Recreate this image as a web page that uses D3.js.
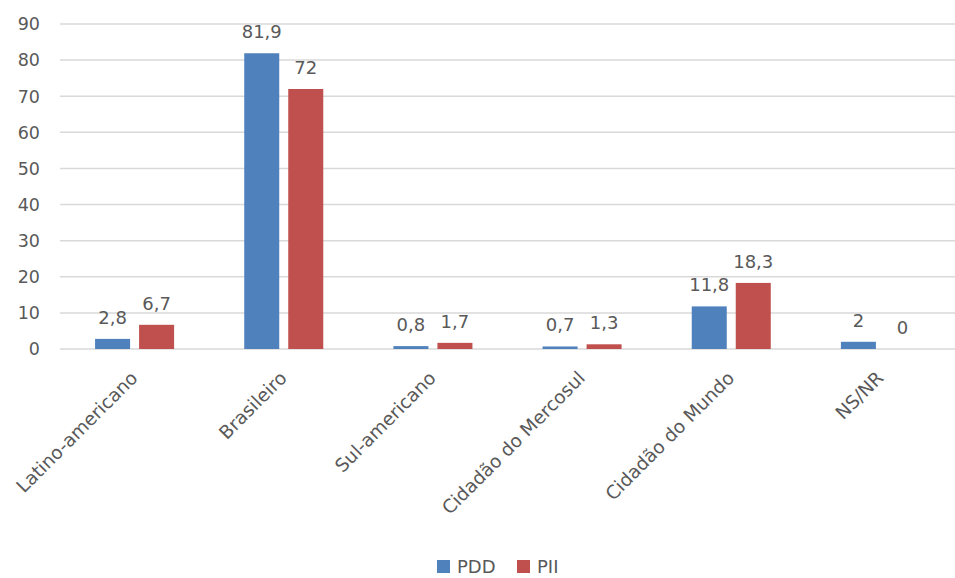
<!DOCTYPE html>
<html><head><meta charset="utf-8">
<script src="https://cdn.jsdelivr.net/npm/d3@7"></script>
<style>body{margin:0;background:#fff}svg{display:block}text{font-family:"DejaVu Sans",sans-serif;fill:#595959}</style>
</head><body>
<script>
const categories = ["Latino-americano","Brasileiro","Sul-americano","Cidadão do Mercosul","Cidadão do Mundo","NS/NR"];
const series = ["PDD","PII"];
const pdd = [2.8,81.9,0.8,0.7,11.8,2];
const pii = [6.7,72,1.7,1.3,18.3,0];
const labelsPdd = ["2,8","81,9","0,8","0,7","11,8","2"];
const labelsPii = ["6,7","72","1,7","1,3","18,3","0"];
const yTicks = [0,10,20,30,40,50,60,70,80,90];
const colors = ["#4f81bd","#c0504d"];

const W=955,H=578;
const svg=d3.select("body").append("svg").attr("width",W).attr("height",H);
const x=d3.scaleBand().domain(categories).range([60,955]).paddingInner(0).paddingOuter(0);
const y=d3.scaleLinear().domain([0,90]).range([349,24]);
const x1=d3.scaleBand().domain(series).range([0,x.bandwidth()]).paddingInner(0.2045).paddingOuter(0.797);

svg.append("g").selectAll("line").data(yTicks).join("line")
 .attr("x1",60).attr("x2",955).attr("y1",d=>y(d)).attr("y2",d=>y(d))
 .attr("stroke","#d9d9d9").attr("stroke-width",1.5);
svg.append("g").selectAll("text").data(yTicks).join("text")
 .attr("x",40).attr("y",d=>y(d)).attr("dy","0.36em").attr("text-anchor","end")
 .attr("font-size",17.5).text(d=>d);

const data=[pdd,pii], labs=[labelsPdd,labelsPii];
series.forEach((s,si)=>{
  const g=svg.append("g");
  g.selectAll("rect").data(categories).join("rect")
   .attr("x",(c)=>x(c)+x1(s)).attr("width",x1.bandwidth())
   .attr("y",(c,i)=>y(data[si][i])).attr("height",(c,i)=>y(0)-y(data[si][i]))
   .attr("fill",colors[si]);
  g.selectAll("text").data(categories).join("text")
   .attr("x",(c)=>x(c)+x1(s)+x1.bandwidth()/2)
   .attr("y",(c,i)=>y(data[si][i])-15)
   .attr("text-anchor","middle").attr("font-size",18).text((c,i)=>labs[si][i]);
});

svg.append("g").selectAll("text").data(categories).join("text")
 .attr("transform",c=>`translate(${x(c)+x.bandwidth()/2-5},${370}) rotate(-45)`)
 .attr("text-anchor","end").attr("dy","0.7em").attr("font-size",18.5).text(c=>c);

const leg=svg.append("g");
const lx=[437,517];
series.forEach((s,i)=>{
  leg.append("rect").attr("x",lx[i]).attr("y",560).attr("width",13).attr("height",13).attr("fill",colors[i]);
  leg.append("text").attr("x",lx[i]+20).attr("y",566.5).attr("dy","0.36em").attr("font-size",18).text(s);
});
</script>
</body></html>
